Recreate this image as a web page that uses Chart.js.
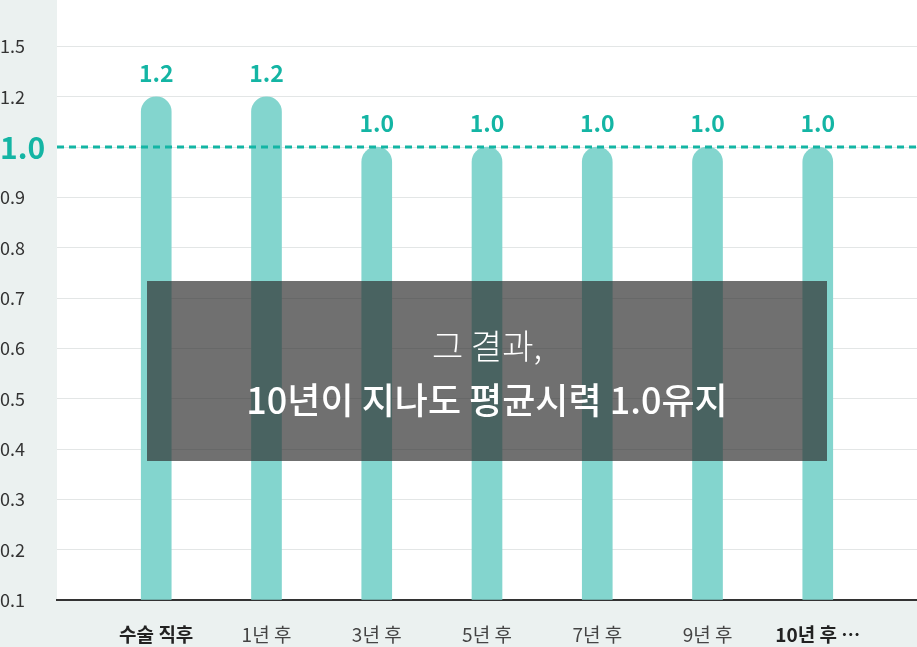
<!DOCTYPE html>
<html>
<head>
<meta charset="utf-8">
<script src="https://cdn.jsdelivr.net/npm/chart.js@4/dist/chart.umd.min.js"></script>
<style>
    html, body { margin: 0; padding: 0; background: #ebf1f0; }
    .wrap { position: relative; width: 917px; height: 647px; overflow: hidden; }
    canvas { display: block; }
    .overlay {
        position: absolute;
        left: 147px; top: 281px; width: 680px; height: 180px;
        background: rgba(46, 46, 46, 0.685);
        color: #fff;
        font-family: 'Noto Sans CJK KR', 'Noto Sans', sans-serif;
        text-align: center;
    }
    .overlay .sub { margin-top: 42px; font-size: 34px; font-weight: 300; line-height: 44px; }
    .overlay .main { margin-top: 8px; font-size: 36px; font-weight: 500; line-height: 46px; }
</style>
</head>
<body>
<div class="wrap">
    <canvas id="vision-chart" width="917" height="647"></canvas>
    <div class="overlay">
        <div class="sub">그 결과,</div>
        <div class="main">10년이 지나도 평균시력 1.0유지</div>
    </div>
</div>
<script>
// Данные графика
const categories = ['수술 직후', '1년 후', '3년 후', '5년 후', '7년 후', '9년 후', '10년 후 ⋯'];
const visionValues = [1.2, 1.2, 1.0, 1.0, 1.0, 1.0, 1.0];
const tickLabels = ['0.1', '0.2', '0.3', '0.4', '0.5', '0.6', '0.7', '0.8', '0.9', '1.0', '1.2', '1.5'];
const boldCategories = ['수술 직후', '10년 후 ⋯'];
const targetLabel = '1.0';

const colors = {
    teal: '#14b5a4',
    bar: '#83d5ce',
    grid: '#e3e6e6',
    panel: '#ebf1f0',
    text: '#333333'
};
const fontFamily = "'Noto Sans CJK KR', 'Noto Sans', sans-serif";

// Ось Y неравномерная: значение -> индекс подписи
const toIndex = v => tickLabels.indexOf(v.toFixed(1));
const targetIndex = tickLabels.indexOf(targetLabel);

// Белая область графика поверх серого фона
const areaPlugin = {
    id: 'areaPlugin',
    beforeDraw(chart) {
        const {ctx, chartArea} = chart;
        ctx.save();
        ctx.fillStyle = '#ffffff';
        ctx.fillRect(chartArea.left, 0, chartArea.right - chartArea.left, chartArea.bottom);
        ctx.restore();
    }
};

// Пунктирная линия на уровне 1.0 поверх столбцов
const targetLinePlugin = {
    id: 'targetLinePlugin',
    afterDatasetsDraw(chart) {
        const {ctx, chartArea, scales} = chart;
        const y = Math.round(scales.y.getPixelForValue(targetIndex));
        ctx.save();
        ctx.strokeStyle = colors.teal;
        ctx.lineWidth = 3;
        ctx.setLineDash([7, 5]);
        ctx.beginPath();
        ctx.moveTo(chartArea.left, y);
        ctx.lineTo(chartArea.right, y);
        ctx.stroke();
        ctx.restore();
    }
};

// Подписи значений над столбцами
const valueLabelPlugin = {
    id: 'valueLabelPlugin',
    afterDatasetsDraw(chart) {
        const {ctx} = chart;
        const meta = chart.getDatasetMeta(0);
        ctx.save();
        ctx.fillStyle = colors.teal;
        ctx.font = 'bold 23px ' + fontFamily;
        ctx.textAlign = 'center';
        ctx.textBaseline = 'middle';
        meta.data.forEach((bar, i) => {
            ctx.fillText(visionValues[i].toFixed(1), bar.x, bar.y - 24);
        });
        ctx.restore();
    }
};

new Chart(document.getElementById('vision-chart'), {
    type: 'bar',
    data: {
        datasets: [{
            data: visionValues.map((v, i) => ({x: i, y: toIndex(v)})),
            backgroundColor: colors.bar,
            barThickness: 30,
            borderRadius: {topLeft: 15, topRight: 15, bottomLeft: 0, bottomRight: 0},
            borderSkipped: 'bottom'
        }]
    },
    options: {
        responsive: false,
        animation: false,
        layout: {padding: 0},
        plugins: {
            legend: {display: false},
            tooltip: {enabled: false}
        },
        scales: {
            x: {
                type: 'linear',
                offset: false,
                min: -0.9,
                max: 6.9,
                afterBuildTicks(scale) {
                    scale.ticks = categories.map((c, i) => ({value: i}));
                },
                afterFit(scale) {
                    scale.height = 47;
                },
                grid: {display: false, offset: false},
                border: {display: true, color: colors.text, width: 2},
                ticks: {
                    padding: 15,
                    autoSkip: false,
                    maxRotation: 0,
                    callback: v => categories[v],
                    color: ctx => boldCategories.includes(categories[ctx.index]) ? '#222222' : '#444444',
                    font: ctx => ({
                        family: fontFamily,
                        size: 19,
                        weight: boldCategories.includes(categories[ctx.index]) ? 'bold' : 'normal'
                    })
                }
            },
            y: {
                min: 0,
                max: 11.71,
                afterBuildTicks(scale) {
                    scale.ticks = tickLabels.map((t, i) => ({value: i}));
                },
                afterFit(scale) {
                    scale.width = 57;
                },
                grid: {
                    color: colors.grid,
                    lineWidth: 1,
                    drawTicks: false
                },
                border: {display: false},
                ticks: {
                    crossAlign: 'far',
                    padding: 0,
                    autoSkip: false,
                    callback: v => tickLabels[v],
                    color: ctx => ctx.index === targetIndex ? colors.teal : colors.text,
                    font: ctx => ctx.index === targetIndex
                        ? {family: fontFamily, size: 30, weight: 'bold'}
                        : {family: fontFamily, size: 18, weight: 'normal'}
                }
            }
        }
    },
    plugins: [areaPlugin, targetLinePlugin, valueLabelPlugin]
});
</script>
</body>
</html>
